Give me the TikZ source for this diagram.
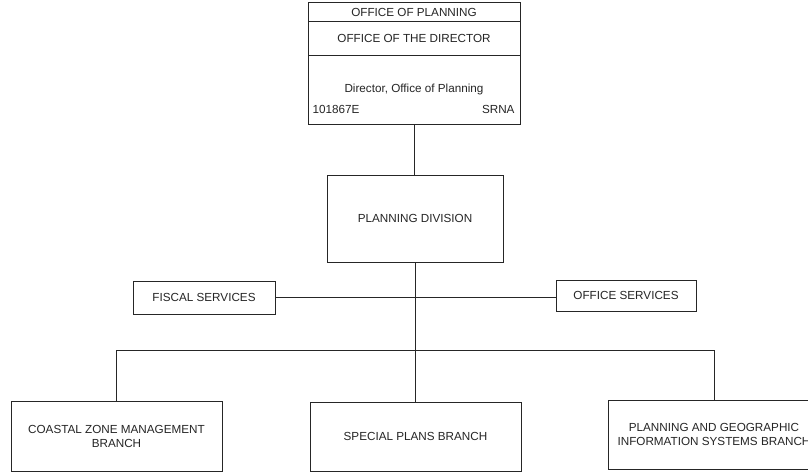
\documentclass[tikz,border=0pt]{standalone}
\usepackage{fontspec}
\setmainfont{Liberation Sans}
\begin{document}
\begin{tikzpicture}[x=1pt,y=-1pt,
  line width=1pt,
  every node/.style={font=\fontsize{11.7}{14.5}\selectfont, text=black!85},
  box/.style={draw=black!85, rectangle, inner sep=0pt, outer sep=0pt, align=center},
  lbl/.style={inner sep=0pt},
  link/.style={draw=black!85, line width=1pt}]
\useasboundingbox (0,0) rectangle (808,474);
\clip (0,0) rectangle (808,474);
\fill[white] (0,0) rectangle (808,474);

% top box
\node[box, minimum width=212, minimum height=122] (dir) at (414,63) {};
\coordinate (d1) at (0,21);
\coordinate (d2) at (0,55);
\draw[link] (dir.west |- d1) -- (dir.east |- d1);
\draw[link] (dir.west |- d2) -- (dir.east |- d2);
\node[lbl] (t1) at (414,12) {OFFICE OF PLANNING};
\node[lbl] (t2) at (414,38) {OFFICE OF THE DIRECTOR};
\node[lbl] (t3) at (414,89) {Director, Office of Planning};
\node[lbl, anchor=west] (t4) at (312,109) {101867E};
\node[lbl, anchor=east] (t5) at (515,109) {SRNA};

% planning division
\node[box, minimum width=176, minimum height=87] (pd) at (415,218.5) {PLANNING DIVISION};

% services
\node[box, minimum width=142, minimum height=33] (fis) at (204,297.5) {FISCAL SERVICES};
\node[box, minimum width=140, minimum height=31] (off) at (626,295.5) {OFFICE SERVICES};

% branches
\node[box, minimum width=211, minimum height=70] (coast) at (116.5,436.5) {COASTAL ZONE MANAGEMENT\\BRANCH};
\node[box, minimum width=211, minimum height=69] (spec) at (415.5,436.5) {SPECIAL PLANS BRANCH};
\node[box, minimum width=212, minimum height=69] (gis) at (714,434.5) {PLANNING AND GEOGRAPHIC\\INFORMATION SYSTEMS BRANCH};

% connectors
\coordinate (bar) at (415,350);
\draw[link] (dir.south) -- (dir.south |- pd.north);
\draw[link] (pd.south) -- (pd.south |- spec.north);
\draw[link] (fis.east) -- (fis.east -| off.west);
\draw[link] (coast.north) -- (coast.north |- bar) -- (gis.north |- bar) -- (gis.north);
\end{tikzpicture}
\end{document}
